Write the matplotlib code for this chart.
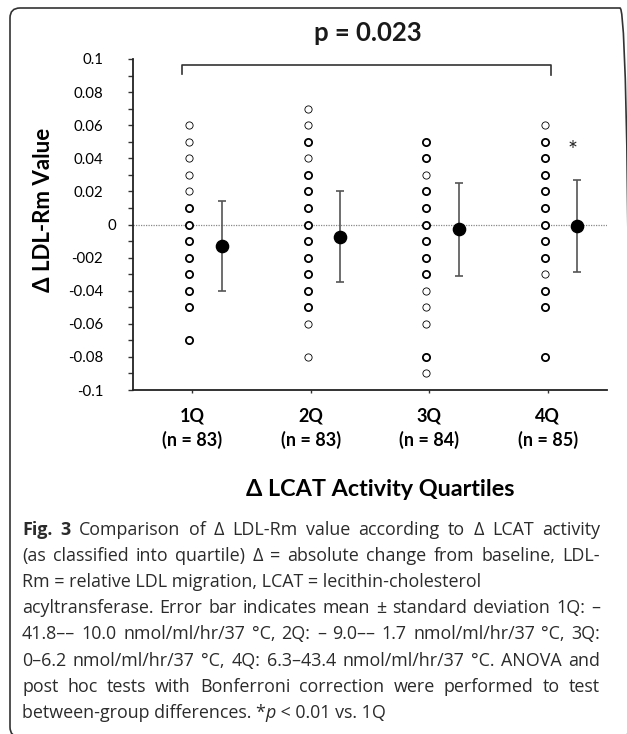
import matplotlib
matplotlib.use("Agg")
import matplotlib.pyplot as plt
from matplotlib.patches import FancyBboxPatch
from matplotlib.transforms import ScaledTranslation, IdentityTransform

# Data
quartiles = ["1Q", "2Q", "3Q", "4Q"]
n_counts = [83, 83, 84, 85]
vals_1q = [0.06, 0.05, 0.04, 0.03, 0.02, 0.01, 0.0, -0.01, -0.02, -0.03, -0.04, -0.05, -0.07]
vals_2q = [0.07, 0.06, 0.05, 0.04, 0.03, 0.02, 0.01, 0.0, -0.01, -0.02, -0.03, -0.04, -0.05, -0.06, -0.08]
vals_3q = [0.05, 0.04, 0.03, 0.02, 0.01, 0.0, -0.01, -0.02, -0.03, -0.04, -0.05, -0.06, -0.08, -0.09]
vals_4q = [0.06, 0.05, 0.04, 0.03, 0.02, 0.01, 0.0, -0.01, -0.02, -0.03, -0.04, -0.05, -0.08]
means = [-0.013, -0.0075, -0.003, -0.001]
sds = [0.027, 0.0275, 0.028, 0.028]
p_text = "p = 0.023"
ytick_vals = [0.1, 0.08, 0.06, 0.04, 0.02, 0.0, -0.02, -0.04, -0.06, -0.08, -0.1]
ytick_text = ["0.1", "0.08", "0.06", "0.04", "0.02", "0", "-002", "-0.04", "-0.06", "-0.08", "-0.1"]

# which open circles look heavier (overlapping points)
heavy_1q = [0, 0, 0, 0, 0, 1, 1, 1, 1, 1, 1, 1, 1]
heavy_2q = [0, 0, 1, 0, 1, 1, 1, 1, 1, 1, 1, 1, 1, 0, 0]
heavy_3q = [1, 1, 0, 1, 1, 1, 1, 1, 1, 0, 0, 0, 1, 0]
heavy_4q = [0, 1, 1, 1, 1, 1, 1, 1, 1, 0, 1, 1, 1]

all_vals = [vals_1q, vals_2q, vals_3q, vals_4q]
all_heavy = [heavy_1q, heavy_2q, heavy_3q, heavy_4q]

W, H = 627, 734
fig = plt.figure(figsize=(W / 100, H / 100), dpi=100)


def fx(px):
    return px / W


def fy(py):
    return 1 - py / H


chart_font = ["Lato", "DejaVu Sans"]
cap_font = ["Open Sans", "DejaVu Sans"]

ax = fig.add_axes([fx(133), fy(390), fx(607) - fx(133), fy(59) - fy(390)])

for i, (vals, heavy) in enumerate(zip(all_vals, all_heavy)):
    xpos = i + 1 - 0.025
    for v, h in zip(vals, heavy):
        ax.plot(xpos, v, "o", ms=5.2, mfc="white", mec="black",
                mew=1.3 if h else 0.6, zorder=3)

xm = [i + 1 + 0.25 for i in range(4)]
ax.errorbar(xm, means, yerr=sds, fmt="none", ecolor="#555555", elinewidth=1.2,
            capsize=2.6, capthick=1.2, zorder=2)
ax.plot(xm, means, "o", ms=8.8, color="black", zorder=4)

ax.axhline(0, color="#888888", lw=0.9, ls=(0, (1, 1)), zorder=1)

# bracket with p value
ax.plot([0.915, 0.915, 4.025, 4.025], [0.091, 0.0964, 0.0964, 0.0905],
        color="#333333", lw=1.2, clip_on=False)
fig.text(fx(368), fy(33), p_text, ha="center", va="center", fontsize=18.5,
         fontweight="bold", family=chart_font, color="#1a1a1a")
ax.text(4.21, 0.045, "*", ha="center", va="center", fontsize=17,
        family=chart_font, color="#222222")

ax.set_xlim(0.5, 4.5)
ax.set_ylim(-0.1, 0.1)
ax.set_yticks(ytick_vals)
ax.set_yticklabels(ytick_text, family=chart_font, fontsize=10.8)
ax.set_yticks([-0.09, -0.07, -0.05, -0.03, -0.01, 0.01, 0.03, 0.05, 0.07, 0.09], minor=True)
ax.tick_params(axis="y", which="both", direction="out", length=3.5, width=1.0,
               pad=18, color="#333333")
ax.set_xticks(range(1, 5))
ax.set_xticklabels([f"{q}\n(n = {n})" for q, n in zip(quartiles, n_counts)],
                   family=chart_font, fontsize=13, fontweight="bold",
                   linespacing=1.4)
ax.tick_params(axis="x", direction="out", length=2.5, width=1.0, pad=10,
               color="#333333")
for lab in ax.get_yticklabels():
    if lab.get_text() == "0":
        lab.set_transform(lab.get_transform() + ScaledTranslation(0.13, 0, fig.dpi_scale_trans))

for s in ["top", "right"]:
    ax.spines[s].set_visible(False)
for s in ["left", "bottom"]:
    ax.spines[s].set_linewidth(1.3)
    ax.spines[s].set_color("#222222")
ax.patch.set_alpha(0)

fig.text(fx(43), fy(210), "Δ LDL-Rm Value", rotation=90, ha="center", va="center",
         fontsize=16, fontweight="bold", family=chart_font)
fig.text(fx(380), fy(490), "Δ LCAT Activity Quartiles", ha="center", va="center",
         fontsize=16.8, fontweight="bold", family=chart_font)

# caption, most lines justified between x=22 and x=600
cap_lines = [
    "Fig. 3 Comparison of Δ LDL-Rm value according to Δ LCAT activity",
    "(as classified into quartile) Δ = absolute change from baseline, LDL-",
    "Rm = relative LDL migration, LCAT = lecithin-cholesterol",
    "acyltransferase. Error bar indicates mean ± standard deviation 1Q: –",
    "41.8–– 10.0 nmol/ml/hr/37 °C, 2Q: – 9.0–– 1.7 nmol/ml/hr/37 °C, 3Q:",
    "0–6.2 nmol/ml/hr/37 °C, 4Q: 6.3–43.4 nmol/ml/hr/37 °C. ANOVA and",
    "post hoc tests with Bonferroni correction were performed to test",
]
justified = [True, True, False, True, True, True, True]
cap_y = [530, 556, 582, 608, 634, 661, 687, 713]
cap_kw = dict(fontsize=12.9, family=cap_font, color="#2b2b2b", va="center")
renderer = fig.canvas.get_renderer()
left, right = 22, 600

for k, (line, just, yy) in enumerate(zip(cap_lines, justified, cap_y)):
    if not just:
        fig.text(fx(left), fy(yy), line, **cap_kw)
        continue
    words = line.split(" ")
    texts = []
    for j, w in enumerate(words):
        bold = k == 0 and j < 2
        texts.append(fig.text(0, fy(yy), w, fontweight="bold" if bold else "normal", **cap_kw))
    widths = [t.get_window_extent(renderer).width for t in texts]
    gap = (right - left - sum(widths)) / (len(words) - 1)
    xx = left
    for t, wd in zip(texts, widths):
        t.set_x(fx(xx))
        xx += wd + gap

t = fig.text(fx(left), fy(cap_y[-1]), "between-group differences. *", **cap_kw)
x1 = t.get_window_extent(renderer).x1
t = fig.text(x1 / W, fy(cap_y[-1]), "p", style="italic", **cap_kw)
x1 = t.get_window_extent(renderer).x1
fig.text(x1 / W, fy(cap_y[-1]), " < 0.01 vs. 1Q", **cap_kw)

# rounded frame, right and bottom run off the image
frame = FancyBboxPatch((10, -3), 620, 729, boxstyle="round,pad=0,rounding_size=10",
                       transform=IdentityTransform(), fill=False, ec="#333333", lw=1.2)
fig.add_artist(frame)

fig.savefig("out.png", dpi=100)
